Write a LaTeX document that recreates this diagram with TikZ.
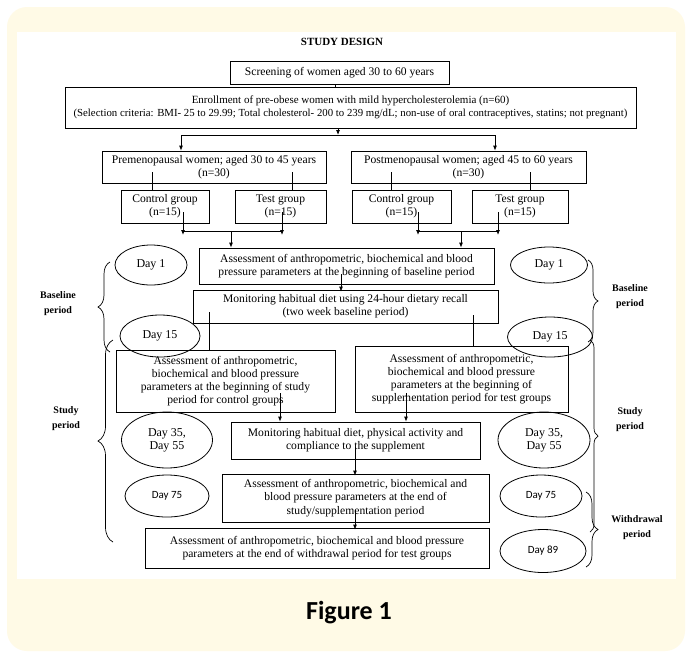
\documentclass[tikz,border=0pt]{standalone}
\usepackage{fontspec}
\setmainfont{Liberation Serif}
\newfontfamily\carl{Carlito}
\usetikzlibrary{shapes.geometric,decorations.pathreplacing,arrows.meta,calc}
\definecolor{cream}{RGB}{255,250,230}
\begin{document}
\begin{tikzpicture}[x=1pt,y=-1pt,
  box/.style={draw, line width=0.8pt, inner sep=0pt, align=center, font=\fontsize{11.6}{13.2}\selectfont},
  day/.style={draw, ellipse, line width=0.8pt, inner sep=0pt, align=center, font=\fontsize{12}{13}\selectfont},
  dayc/.style={day, font=\carl\fontsize{11}{13}\selectfont},
  arr/.style={-{Latex[length=5pt,width=4pt]}, line width=0.8pt},
  ln/.style={line width=0.8pt},
  lab/.style={font=\bfseries\fontsize{10}{15}\selectfont, align=center},
  brc/.style={decorate, decoration={brace, amplitude=#1}, line width=0.7pt}]
\useasboundingbox (0,0) rectangle (687,654);
\fill[white] (0,0) rectangle (687,654);
\fill[cream, rounded corners=20pt] (7,7) rectangle (685,651);
\fill[white] (17,32) rectangle (676,579);

\node[font=\bfseries\fontsize{11}{13}\selectfont] (title) at (342,42) {STUDY DESIGN};

\node[box, minimum width=219pt, minimum height=23pt] (scr) at (339.5,72.5) {Screening of women aged 30 to 60 years};
\node[box, minimum width=571pt, minimum height=41pt, font=\fontsize{11}{13.5}\selectfont] (enr) at (350.5,107.5) {Enrollment of pre-obese women with mild hypercholesterolemia (n=60)\\
{\fontsize{10.8}{13}\selectfont (Selection criteria: BMI- 25 to 29.99; Total cholesterol- 200 to 239 mg/dL; non-use of oral contraceptives, statins; not pregnant)}};
\node[box, minimum width=224pt, minimum height=32pt] (pre) at (214,167) {Premenopausal women; aged 30 to 45 years\\(n=30)};
\node[box, minimum width=235pt, minimum height=32pt] (post) at (468.5,167) {Postmenopausal women; aged 45 to 60 years\\(n=30)};
\node[box, minimum width=88pt, minimum height=33pt] (pc) at (165,206.5) {Control group\\(n=15)};
\node[box, minimum width=91pt, minimum height=33pt] (pt) at (280.5,206.5) {Test group\\(n=15)};
\node[box, minimum width=99pt, minimum height=33pt] (qc) at (401.5,206.5) {Control group\\(n=15)};
\node[box, minimum width=96pt, minimum height=33pt] (qt) at (520,206.5) {Test group\\(n=15)};
\node[box, minimum width=295pt, minimum height=36pt] (base) at (346.5,266) {Assessment of anthropometric, biochemical and blood\\pressure parameters at the beginning of baseline period};
\node[box, minimum width=305pt, minimum height=33pt] (mon) at (345.5,306.5) {Monitoring habitual diet using 24-hour dietary recall\\(two week baseline period)};
\node[box, minimum width=219pt, minimum height=62pt] (cass) at (225.5,381) {Assessment of anthropometric,\\biochemical and blood pressure\\parameters at the beginning of study\\period for control groups};
\node[box, minimum width=213pt, minimum height=66pt] (tass) at (461.5,379) {Assessment of anthropometric,\\biochemical and blood pressure\\parameters at the beginning of\\supplementation period for test groups};
\node[box, minimum width=249pt, minimum height=37pt] (mon2) at (355.5,440.5) {Monitoring habitual diet, physical activity and\\compliance to the supplement};
\node[box, minimum width=267pt, minimum height=48pt] (endb) at (355.5,498) {Assessment of anthropometric, biochemical and\\blood pressure parameters at the end of\\study/supplementation period};
\node[box, minimum width=344pt, minimum height=40pt] (wd) at (317,548) {Assessment of anthropometric, biochemical and blood pressure\\parameters at the end of withdrawal period for test groups};

% ellipses
\node[day, minimum width=72pt, minimum height=40pt] (d1l) at (151,265) {Day 1};
\node[day, minimum width=77pt, minimum height=36pt] (d1r) at (549,265) {Day 1};
\node[day, minimum width=80pt, minimum height=42pt] (d15l) at (160,336) {Day 15};
\node[day, minimum width=85pt, minimum height=40pt] (d15r) at (550,337) {Day 15};
\node[day, minimum width=91pt, minimum height=56pt] (d35l) at (167,440) {Day 35,\\Day 55};
\node[day, minimum width=92pt, minimum height=56pt] (d35r) at (544,440) {Day 35,\\Day 55};
\node[dayc, minimum width=84pt, minimum height=42pt] (d75l) at (167,496) {Day 75};
\node[dayc, minimum width=82pt, minimum height=42pt] (d75r) at (541,496) {Day 75};
\node[dayc, minimum width=86pt, minimum height=43pt] (d89) at (543,551) {Day 89};

% connectors
\draw[ln] (scr.south -| 335,0) -- (enr.north -| 335,0);
\coordinate (split) at (338,135);
\coordinate (xpre) at (181,0);
\coordinate (xpost) at (495,0);
\draw[arr] (enr.south -| split) -- (split);
\draw[ln] (xpre |- split) -- (xpost |- split);
\draw[arr] (xpre |- split) -- (pre.north -| xpre);
\draw[arr] (xpost |- split) -- (post.north -| xpost);

\coordinate (x1) at (152,0);
\coordinate (x2) at (292,0);
\coordinate (x3) at (391,0);
\coordinate (x4) at (530,0);
\draw[ln] ($(pre.south -| x1)+(0,-11)$) -- (pc.north -| x1);
\draw[ln] ($(pre.south -| x2)+(0,-11)$) -- (pt.north -| x2);
\draw[ln] ($(post.south -| x3)+(0,-11)$) -- (qc.north -| x3);
\draw[ln] ($(post.south -| x4)+(0,-11)$) -- (qt.north -| x4);

\coordinate (ja1) at (183,235);
\coordinate (ja2) at (282,235);
\coordinate (jl) at (231,231);
\coordinate (jb1) at (418,235);
\coordinate (jb2) at (498,235);
\coordinate (jr) at (461,231);
\draw[arr] ($(pc.south -| ja1)+(0,-11)$) -- (ja1);
\draw[arr] ($(pt.south -| ja2)+(0,-11)$) -- (ja2);
\draw[ln] (ja1 |- jl) -- (ja2 |- jl);
\draw[arr] (jl) -- (base.north -| jl);
\draw[arr] ($(qc.south -| jb1)+(0,-11)$) -- (jb1);
\draw[arr] ($(qt.south -| jb2)+(0,-11)$) -- (jb2);
\draw[ln] (jb1 |- jr) -- (jb2 |- jr);
\draw[arr] (jr) -- (base.north -| jr);

\coordinate (xm) at (341,0);
\draw[arr] ($(base.south -| xm)+(0,-10)$) -- ($(mon.north -| xm)+(0,2)$);
\coordinate (xc) at (209,0);
\coordinate (xt) at (473,0);
\draw[ln] ($(mon.south -| xc)+(0,-11)$) -- (cass.north -| xc);
\draw[ln] ($(mon.south -| xt)+(0,-8)$) -- (tass.north -| xt);
\coordinate (xc2) at (280,0);
\coordinate (xt2) at (406,0);
\draw[arr] ($(cass.south -| xc2)+(0,-19)$) -- (mon2.north -| xc2);
\draw[arr] ($(tass.south -| xt2)+(0,-19)$) -- (mon2.north -| xt2);
\coordinate (xe) at (355,0);
\draw[arr] ($(mon2.south -| xe)+(0,-12)$) -- ($(endb.north -| xe)+(0,2)$);
\draw[arr] ($(endb.south -| xe)+(0,-12)$) -- ($(wd.north -| xe)+(0,2)$);

% braces
\coordinate (lb1) at (110,352); \coordinate (lb2) at (110,262);
\coordinate (ls1) at (113,542); \coordinate (ls2) at (113,340);
\coordinate (rb1) at (588,260); \coordinate (rb2) at (588,342);
\coordinate (rs1) at (590,340); \coordinate (rs2) at (590,532);
\coordinate (rw1) at (586,492); \coordinate (rw2) at (586,567);
\draw[brc=12pt] (lb1) -- (lb2);
\draw[brc=15pt] (ls1) -- (ls2);
\draw[brc=10pt] (rb1) -- (rb2);
\draw[brc=8pt] (rs1) -- (rs2);
\draw[brc=12pt] (rw1) -- (rw2);

\node[lab] (lbl1) at (58,304) {Baseline\\period};
\node[lab] (lbl2) at (66,419) {Study\\period};
\node[lab] (lbl3) at (630,297) {Baseline\\period};
\node[lab] (lbl4) at (630,420) {Study\\period};
\node[lab] (lbl5) at (637,528) {Withdrawal\\period};

\node[font=\carl\bfseries\fontsize{26}{28}\selectfont] (fig) at (349,613) {Figure 1};
\end{tikzpicture}
\end{document}
